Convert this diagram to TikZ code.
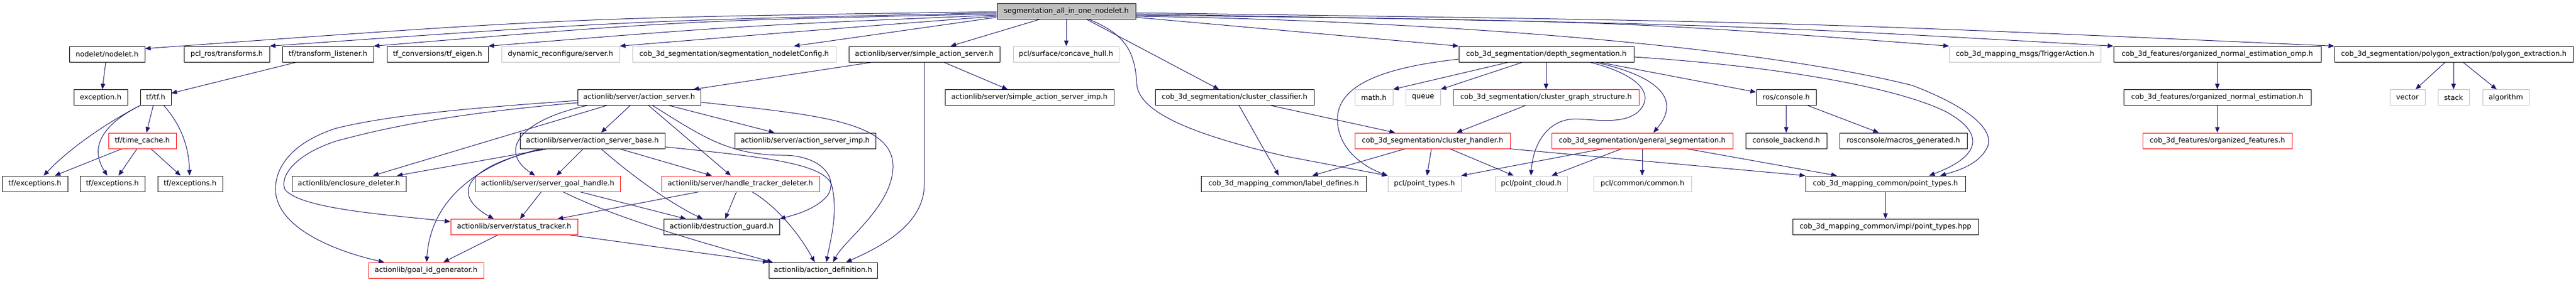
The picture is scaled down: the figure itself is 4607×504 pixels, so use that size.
\documentclass[tikz,border=0pt]{standalone}
\usepackage{fontspec}
\setmainfont{DejaVu Sans}
\usetikzlibrary{arrows.meta}
\definecolor{edgeblue}{HTML}{191970}
\definecolor{greyb}{HTML}{BFBFBF}
\definecolor{redb}{HTML}{FF0000}
\newcommand\nodefnt{\fontsize{12.7pt}{15pt}\selectfont}
\tikzset{
  box/.style={draw=black, line width=1pt, rectangle, minimum height=28pt, inner sep=0pt, font=\nodefnt, text=black},
  redbox/.style={box, draw=redb},
  greybox/.style={box, draw=greyb},
  rootbox/.style={box, fill=greyb},
  e/.style={draw=edgeblue, line width=1pt, -{Triangle[length=10pt,width=8pt]}},
}
\begin{document}
\begin{tikzpicture}[x=1pt,y=-1pt]
\useasboundingbox (0,0) rectangle (4607,504);
% row 0
\node[rootbox, minimum width=248pt] (root) at (1907,20) {segmentation\_all\_in\_one\_nodelet.h};
% row 1
\node[box, minimum width=135pt] (nodelet) at (191.5,97) {nodelet/nodelet.h};
\node[box, minimum width=153pt] (pclros) at (405.5,97) {pcl\_ros/transforms.h};
\node[box, minimum width=163pt] (tflisten) at (586.5,97) {tf/transform\_listener.h};
\node[box, minimum width=181pt] (tfeigen) at (782.5,97) {tf\_conversions/tf\_eigen.h};
\node[greybox, minimum width=211pt] (dynrec) at (1002.5,97) {dynamic\_reconfigure/server.h};
\node[greybox, minimum width=364pt] (segconf) at (1313,97) {cob\_3d\_segmentation/segmentation\_nodeletConfig.h};
\node[box, minimum width=270pt] (sas) at (1653,97) {actionlib/server/simple\_action\_server.h};
\node[greybox, minimum width=189pt] (concave) at (1906.5,97) {pcl/surface/concave\_hull.h};
\node[box, minimum width=313pt] (depth) at (2765.5,97) {cob\_3d\_segmentation/depth\_segmentation.h};
\node[greybox, minimum width=271pt] (trigger) at (3621.5,97) {cob\_3d\_mapping\_msgs/TriggerAction.h};
\node[box, minimum width=371pt] (omp) at (3965.5,97) {cob\_3d\_features/organized\_normal\_estimation\_omp.h};
\node[box, minimum width=427pt] (poly) at (4388.5,97) {cob\_3d\_segmentation/polygon\_extraction/polygon\_extraction.h};
% row 2
\node[box, minimum width=96pt] (exception) at (180,174.5) {exception.h};
\node[box, minimum width=55pt] (tftf) at (278.5,174.5) {tf/tf.h};
\node[box, minimum width=220pt] (as) at (1143,174.5) {actionlib/server/action\_server.h};
\node[box, minimum width=302pt] (sasimp) at (1841,174.5) {actionlib/server/simple\_action\_server\_imp.h};
\node[box, minimum width=284pt] (clclass) at (2208,174.5) {cob\_3d\_segmentation/cluster\_classifier.h};
\node[greybox, minimum width=68pt] (math) at (2457,174.5) {math.h};
\node[greybox, minimum width=62pt] (queue) at (2545,174.5) {queue};
\node[redbox, minimum width=332pt] (cgs) at (2765,174.5) {cob\_3d\_segmentation/cluster\_graph\_structure.h};
\node[box, minimum width=107pt] (console) at (3194.5,174.5) {ros/console.h};
\node[box, minimum width=335pt] (one) at (3965.5,174.5) {cob\_3d\_features/organized\_normal\_estimation.h};
\node[greybox, minimum width=63pt] (vector) at (4305.5,174.5) {vector};
\node[greybox, minimum width=56pt] (stack) at (4388,174.5) {stack};
\node[greybox, minimum width=83pt] (algorithm) at (4481.5,174.5) {algorithm};
% row 3
\node[redbox, minimum width=121pt] (timecache) at (254.5,252) {tf/time\_cache.h};
\node[box, minimum width=259pt] (asb) at (1059.5,252) {actionlib/server/action\_server\_base.h};
\node[box, minimum width=252pt] (asimp) at (1440,252) {actionlib/server/action\_server\_imp.h};
\node[redbox, minimum width=278pt] (clhandler) at (2562,252) {cob\_3d\_segmentation/cluster\_handler.h};
\node[redbox, minimum width=324pt] (genseg) at (2937,252) {cob\_3d\_segmentation/general\_segmentation.h};
\node[box, minimum width=145pt] (backend) at (3194.5,252) {console\_backend.h};
\node[box, minimum width=228pt] (macros) at (3404,252) {rosconsole/macros\_generated.h};
\node[redbox, minimum width=267pt] (orgfeat) at (3965.5,252) {cob\_3d\_features/organized\_features.h};
% row 4
\node[box, minimum width=117pt] (exc1) at (62.5,329) {tf/exceptions.h};
\node[box, minimum width=116pt] (exc2) at (201,329) {tf/exceptions.h};
\node[box, minimum width=116pt] (exc3) at (340,329) {tf/exceptions.h};
\node[box, minimum width=204pt] (encl) at (624,329) {actionlib/enclosure\_deleter.h};
\node[redbox, minimum width=259pt] (sgh) at (979.5,329) {actionlib/server/server\_goal\_handle.h};
\node[redbox, minimum width=282pt] (htd) at (1324,329) {actionlib/server/handle\_tracker\_deleter.h};
\node[box, minimum width=295pt] (label) at (2295.5,329) {cob\_3d\_mapping\_common/label\_defines.h};
\node[greybox, minimum width=131pt] (pcltypes) at (2547.5,329) {pcl/point\_types.h};
\node[greybox, minimum width=129pt] (pclcloud) at (2738.5,329) {pcl/point\_cloud.h};
\node[greybox, minimum width=175pt] (pclcommon) at (2937.5,329) {pcl/common/common.h};
\node[box, minimum width=286pt] (cmctypes) at (3372,329) {cob\_3d\_mapping\_common/point\_types.h};
% row 5
\node[redbox, minimum width=227pt] (status) at (919.5,406.5) {actionlib/server/status\_tracker.h};
\node[box, minimum width=207pt] (dguard) at (1290.5,406.5) {actionlib/destruction\_guard.h};
\node[box, minimum width=332pt] (impltypes) at (3372,406.5) {cob\_3d\_mapping\_common/impl/point\_types.hpp};
% row 6
\node[redbox, minimum width=206pt] (goalid) at (762,484) {actionlib/goal\_id\_generator.h};
\node[box, minimum width=194pt] (actdef) at (1472,484) {actionlib/action\_definition.h};

% ---- edges from root
\draw[e] (root.west |- 0,21) .. controls (1021,32) .. (nodelet.east |- 0,87);
\draw[e] (root.west |- 0,23) .. controls (1131,37) .. (pclros.north east);
\draw[e] (root.west |- 0,25) .. controls (1224,37) .. (tflisten.north east);
\draw[e] (root.west |- 0,27) .. controls (1328,46) .. (tfeigen.north east);
\draw[e] (root.west |- 0,29) .. controls (1445,55) .. (dynrec.north east);
\draw[e] (root.west |- 0,31) -- (segconf.north -| 1420,0);
\draw[e] (root.south -| 1860,0) -- (sas.north -| 1700,0);
\draw[e] (root.south -| 1907,0) -- (concave.north -| 1907,0);
\draw[e] (root.south -| 1943,0) -- (clclass.north -| 2180,0);
\draw[e] (root.south -| 1947,0) .. controls (2010,60) and (2030,90) .. (2033,150) .. controls (2036,205) and (2150,245) .. (2300,280) -- (pcltypes.north west);
\draw[e] (root.east |- 0,31) -- (depth.north west);
\draw[e] (root.east |- 0,27) .. controls (2900,38) .. (trigger.north west);
\draw[e] (root.east |- 0,25) .. controls (3100,44) .. (omp.north west);
\draw[e] (root.east |- 0,23) .. controls (3200,39) .. (poly.north west);
\draw[e] (root.east |- 0,29) .. controls (2600,38) and (3150,85) .. (3420,153) .. controls (3530,195) and (3565,235) .. (3555,262) .. controls (3540,295) and (3500,306) .. (cmctypes.north -| 3470,0);

% ---- depth segmentation
\draw[e] (depth.west |- 0,106) .. controls (2480,120) and (2395,150) .. (2392,210) .. controls (2390,260) and (2430,295) .. (pcltypes.north west);
\draw[e] (depth.south -| 2698,0) -- (math.north east);
\draw[e] (depth.south -| 2723,0) -- (queue.north east);
\draw[e] (depth.south -| 2765,0) -- (cgs.north -| 2765,0);
\draw[e] (depth.south -| 2843,0) .. controls (2920,130) and (2965,165) .. (2930,200) .. controls (2905,222) and (2860,215) .. (2820,213) .. controls (2770,212) and (2742,255) .. (pclcloud.north -| 2738,0);
\draw[e] (depth.south -| 2853,0) .. controls (2960,135) and (3010,175) .. (genseg.north -| 2957,0);
\draw[e] (depth.south -| 2860,0) -- (console.west |- 0,165);
\draw[e] (depth.east |- 0,102) .. controls (3200,120) and (3400,160) .. (3480,200) .. controls (3540,232) and (3555,275) .. (cmctypes.north -| 3450,0);

% ---- segmentation internals
\draw[e] (cgs.south -| 2728,0) -- (clhandler.north -| 2605,0);
\draw[e] (clclass.south -| 2273,0) -- (clhandler.north -| 2495,0);
\draw[e] (clclass.south -| 2216,0) -- (label.north -| 2287,0);
\draw[e] (clhandler.south -| 2513,0) -- (label.north -| 2347,0);
\draw[e] (clhandler.south -| 2560,0) -- (pcltypes.north -| 2552,0);
\draw[e] (clhandler.south -| 2593,0) -- (pclcloud.north -| 2707,0);
\draw[e] (clhandler.south -| 2700,0) -- (cmctypes.north west);
\draw[e] (genseg.south -| 2867,0) -- (pcltypes.north east);
\draw[e] (genseg.south -| 2900,0) -- (pclcloud.north -| 2775,0);
\draw[e] (genseg.south -| 2937,0) -- (pclcommon.north -| 2937,0);
\draw[e] (genseg.south -| 3017,0) -- (cmctypes.north -| 3285,0);
\draw[e] (console.south) -- (backend.north);
\draw[e] (console.south -| 3233,0) -- (macros.north -| 3360,0);
\draw[e] (cmctypes.south) -- (impltypes.north);
\draw[e] (omp.south) -- (one.north);
\draw[e] (one.south) -- (orgfeat.north);
\draw[e] (poly.south -| 4373,0) -- (vector.north -| 4320,0);
\draw[e] (poly.south -| 4388,0) -- (stack.north);
\draw[e] (poly.south -| 4405,0) -- (algorithm.north -| 4465,0);

% ---- tf
\draw[e] (nodelet.south -| 189,0) -- (exception.north -| 183,0);
\draw[e] (tflisten.south -| 530,0) -- (tftf.east |- 0,167);
\draw[e] (tftf.south west) .. controls (200,215) and (130,260) .. (exc1.north -| 78,0);
\draw[e] (tftf.south west) .. controls (160,235) and (170,280) .. (exc2.north -| 192,0);
\draw[e] (tftf.south -| 274,0) -- (timecache.north -| 262,0);
\draw[e] (tftf.south -| 293,0) .. controls (325,225) and (338,265) .. (exc3.north -| 339,0);
\draw[e] (timecache.south -| 218,0) -- (exc1.north -| 98,0);
\draw[e] (timecache.south -| 245,0) -- (exc2.north -| 212,0);
\draw[e] (timecache.south -| 270,0) -- (exc3.north -| 323,0);

% ---- actionlib
\draw[e] (sas.south -| 1560,0) -- (as.north -| 1240,0);
\draw[e] (sas.south -| 1688,0) -- (sasimp.north -| 1802,0);
\draw[e] (sas.south -| 1653,0) -- (1653,330) .. controls (1653,400) and (1580,440) .. (actdef.north -| 1513,0);

\draw[e] (as.south -| 1127,0) -- (asb.north -| 1075,0);
\draw[e] (as.south -| 1197,0) -- (asimp.north -| 1385,0);
\draw[e] (as.south -| 1160,0) -- (htd.north -| 1307,0);
\draw[e] (as.south -| 1167,0) .. controls (1250,240) and (1300,278) .. (1400,278) .. controls (1470,278) and (1500,320) .. (1480,350) .. controls (1460,375) and (1420,385) .. (dguard.north east);
\draw[e] (as.east |- 0,183) .. controls (1450,205) and (1600,215) .. (1597,300) .. controls (1595,370) and (1510,430) .. (actdef.north -| 1490,0);
\draw[e] (as.south -| 1050,0) .. controls (930,215) and (890,270) .. (sgh.north -| 957,0);
\draw[e] (as.south -| 1085,0) -- (encl.north -| 667,0);
\draw[e] (as.west |- 0,180) .. controls (850,193) and (700,205) .. (600,230) .. controls (510,260) and (490,310) .. (493,345) .. controls (500,410) and (600,450) .. (goalid.north -| 687,0);
\draw[e] (as.west |- 0,184) .. controls (850,200) and (720,220) .. (600,253) .. controls (520,280) and (500,320) .. (510,340) .. controls (540,375) and (700,385) .. (status.west |- 0,397);

\draw[e] (asb.south -| 980,0) -- (encl.north -| 710,0);
\draw[e] (asb.south -| 967,0) .. controls (850,295) and (770,360) .. (goalid.north -| 763,0);
\draw[e] (asb.south -| 973,0) .. controls (840,295) and (800,345) .. (status.north -| 883,0);
\draw[e] (asb.south -| 1043,0) -- (sgh.north -| 995,0);
\draw[e] (asb.south -| 1108,0) -- (htd.north -| 1273,0);
\draw[e] (asb.south -| 1075,0) .. controls (1130,315) and (1200,365) .. (dguard.north -| 1257,0);
\draw[e] (asb.east |- 0,263) .. controls (1350,280) and (1470,290) .. (1487,330) .. controls (1500,380) and (1485,430) .. (actdef.north -| 1478,0);

\draw[e] (sgh.south -| 968,0) -- (status.north -| 930,0);
\draw[e] (sgh.south -| 1037,0) -- (dguard.north -| 1227,0);
\draw[e] (sgh.south -| 1007,0) .. controls (1080,380) and (1200,420) .. (actdef.north -| 1382,0);

\draw[e] (htd.south -| 1250,0) -- (status.north -| 997,0);
\draw[e] (htd.south -| 1317,0) -- (dguard.north -| 1297,0);
\draw[e] (htd.south -| 1345,0) .. controls (1390,370) and (1430,420) .. (actdef.north -| 1457,0);

\draw[e] (status.south -| 890,0) -- (goalid.north -| 793,0);
\draw[e] (status.south -| 1020,0) -- (actdef.north west);
\end{tikzpicture}
\end{document}
